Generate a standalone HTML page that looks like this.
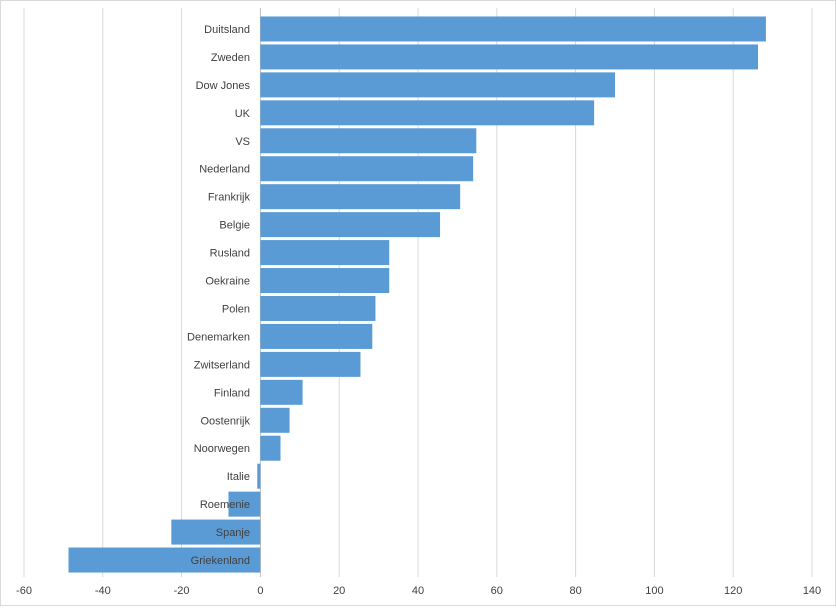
<!DOCTYPE html>
<html><head><meta charset="utf-8"><style>
body{margin:0;background:#fff;font-family:"Liberation Sans",sans-serif;}
svg text{font-family:"Liberation Sans",sans-serif;font-size:11px;fill:#404040;}
</style></head><body>
<svg id="chart" width="836" height="606" xmlns="http://www.w3.org/2000/svg">
<rect x="0.5" y="0.5" width="835" height="605" fill="#fff" stroke="#d9d9d9"/>
<g id="grid"></g><g id="bars"></g><g id="labels"></g><g id="ticks"></g>
</svg>
<script>
const categories=["Duitsland","Zweden","Dow Jones","UK","VS","Nederland","Frankrijk","Belgie","Rusland","Oekraine","Polen","Denemarken","Zwitserland","Finland","Oostenrijk","Noorwegen","Italie","Roemenie","Spanje","Griekenland"];
const values=[128.3,126.3,90,84.7,54.8,54,50.7,45.6,32.7,32.7,29.2,28.4,25.4,10.7,7.4,5.1,-0.8,-8.1,-22.6,-48.7];
const tickValues=[-60,-40,-20,0,20,40,60,80,100,120,140];
const NS="http://www.w3.org/2000/svg";
const x0=24,x1=812,vmin=-60,vmax=140,plotTop=15,pitch=27.95,barH=25;
const xs=v=>x0+(v-vmin)/(vmax-vmin)*(x1-x0);
const yc=i=>plotTop+pitch*i+pitch/2;
function mk(t,a,p){const e=document.createElementNS(NS,t);for(const k in a)e.setAttribute(k,a[k]);p.appendChild(e);return e;}
const grid=document.getElementById('grid'),bars=document.getElementById('bars'),labels=document.getElementById('labels'),ticks=document.getElementById('ticks');
tickValues.forEach(v=>{
 const l=mk('line',{x1:xs(v),x2:xs(v),y1:8,y2:577,stroke:v===0?'#bfbfbf':'#d9d9d9','stroke-width':1},grid);
 
 
 const t=mk('text',{x:xs(v),y:594,'text-anchor':'middle'},ticks);t.textContent=v;
 
 
});
categories.forEach((c,i)=>{
 const v=values[i];const a=xs(Math.min(0,v)),b=xs(Math.max(0,v));
 const r=mk('rect',{x:a,y:yc(i)-barH/2,width:b-a,height:barH,fill:'#5b9bd5'},bars);
 
 
 const t=mk('text',{x:250,y:yc(i)+4,'text-anchor':'end'},labels);t.textContent=c;
 
 
});
</script>
</body></html>
